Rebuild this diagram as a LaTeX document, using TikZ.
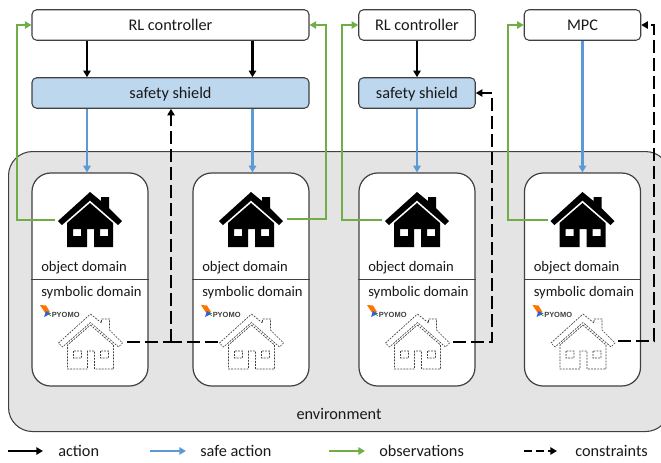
\documentclass[tikz,border=0pt]{standalone}
\usepackage{fontspec}
\setmainfont{Carlito}
\newfontfamily\logofont{Liberation Sans}
\usetikzlibrary{arrows.meta}
\definecolor{cgreen}{HTML}{70AD47}
\definecolor{cblue}{HTML}{5B9BD5}
\definecolor{cshield}{HTML}{BDD7EE}
\definecolor{cenv}{HTML}{E4E4E4}
\definecolor{cedge}{HTML}{404040}
\tikzset{
  wh/.style 2 args={minimum width=#1*.75pt,minimum height=#2*.75pt,inner sep=0pt},
  ctrl/.style={draw=cedge,line width=.8pt,fill=white,rounded corners=3.5pt,font=\fontsize{12.2}{14}\selectfont,text=black!90,text height=8.3pt,text depth=.3pt},
  shieldbox/.style={ctrl,fill=cshield},
  envbox/.style={draw=cedge,line width=.8pt,fill=cenv,rounded corners=18pt},
  dombox/.style={draw=cedge,line width=.9pt,fill=white,rounded corners=14pt},
  lbl/.style={font=\fontsize{12.2}{14}\selectfont,inner sep=0pt,text=black!90},
  domlbl/.style={lbl,anchor=west,font=\fontsize{10.95}{13}\selectfont},
  act/.style={line width=1.7pt,black,-{Triangle[length=5pt,width=5.5pt]}},
  safe/.style={line width=1.7pt,cblue,-{Triangle[length=5pt,width=5.5pt]}},
  obs/.style={line width=1.9pt,cgreen,-{Triangle[length=5pt,width=5.5pt]}},
  cons/.style={line width=1.8pt,black,dash pattern=on 10pt off 3.5pt,-{Triangle[length=5pt,width=5.5pt]}},
  consline/.style={line width=1.8pt,black,dash pattern=on 10pt off 3.5pt},
  house/.pic={
    \path[pic actions,even odd rule]
      (0,0) -- (11,9) -- (11,5) -- (19,5) -- (19,16) -- (32,29) -- (28,33) -- (0,8.5) -- (-28,33) -- (-32,29) -- cycle
      (0,11) -- (23,31) -- (23,55) -- (4,55) -- (4,37) -- (-3,37) -- (-3,55) -- (-23,55) -- (-23,31) -- cycle
      (10,37) rectangle (18,44)
      (-17,37) rectangle (-9,44);
  }
}
\newcommand{\domain}[2]{%
  \node[dombox,wh={116}{213}] (dom#1) at (#2,279.5) {};
  \draw[cedge,line width=.6pt] (dom#1.west |- 0,279) -- (dom#1.east |- 0,279);
  \node[domlbl] (obj#1) at (#2-49,267.5) {object domain};
  \node[domlbl] (sym#1) at (#2-49,292.5) {symbolic domain};
  \pic[fill=black] at (#2,192) {house};
  \pic[draw=black!75,line width=.5pt,dash pattern=on 1.4pt off .9pt] at (#2+.5,314) {house};
  \fill[orange!90!red] (#2-50,305) -- (#2-44,305.5) -- (#2-40,312) -- (#2-44,314) -- cycle;
  \fill[cblue!60!blue] (#2-44,311) -- (#2-39,313.5) -- (#2-46,317) -- cycle;
  \draw[green!60!black,line width=.4pt] (#2-43,313) -- (#2-39,316);
  \node[inner sep=0pt,anchor=west,font=\logofont\bfseries\fontsize{5.6}{6}\selectfont,text=black!75] (logo#1) at (#2-38.5,314.5) {PYOMO};
}
\begin{document}
\begin{tikzpicture}[x=.75pt,y=-.75pt]
\useasboundingbox (0,0) rectangle (661,462);
\node[envbox,wh={661}{280},anchor=north west] (env) at (8,151) {};
\node[lbl] (envlbl) at (339,413.5) {environment};
\domain{A}{90}
\domain{B}{251}
\domain{C}{417}
\domain{D}{582.5}
\node[ctrl,wh={277}{30.5}] (rlA) at (170.5,25) {RL controller};
\node[shieldbox,wh={277}{30.5}] (shA) at (170.5,93) {safety shield};
\node[ctrl,wh={116.5}{30.5}] (rlB) at (417,25) {RL controller};
\node[shieldbox,wh={116.5}{30.5}] (shB) at (417,93) {safety shield};
\node[ctrl,wh={116.5}{30.5}] (mpc) at (582.5,25) {MPC};
% anchors on the house icons and routing points
\coordinate (xa) at (87,0);
\coordinate (xb) at (252.5,0);
\coordinate (hA) at (55,220);
\coordinate (hB) at (287,219);
\coordinate (hC) at (382,220);
\coordinate (hD) at (548,220);
\coordinate (gA) at (17,0);
\coordinate (gB) at (326,0);
\coordinate (gC) at (342,0);
\coordinate (gD) at (508,0);
\coordinate (sA) at (127,342);
\coordinate (sB) at (218,342);
\coordinate (sC) at (453,342);
\coordinate (sD) at (618,341);
\coordinate (kA) at (171,342);
\coordinate (kC) at (492,342);
\coordinate (kD) at (654,341);
% actions
\draw[act] (xa |- rlA.south) -- (xa |- shA.north);
\draw[act] (xb |- rlA.south) -- (xb |- shA.north);
\draw[act] (rlB.south) -- (shB.north);
% safe actions
\draw[safe] (xa |- shA.south) -- (xa |- domA.north);
\draw[safe] (xb |- shA.south) -- (xb |- domB.north);
\draw[safe] (shB.south) -- (domC.north);
\draw[safe] (mpc.south) -- (domD.north);
% observations
\draw[obs] (hA) -| (gA |- rlA.west) -- (rlA.west);
\draw[obs] (hB) -| (gB |- rlA.east) -- (rlA.east);
\draw[obs] (hC) -| (gC |- rlB.west) -- (rlB.west);
\draw[obs] (hD) -| (gD |- mpc.west) -- (mpc.west);
% constraints
\draw[consline] (sA) -- (kA);
\draw[consline] (sB) -- (kA);
\draw[cons] (kA) -- (kA |- shA.south);
\draw[cons] (sC) -| (kC |- shB.east) -- (shB.east);
\draw[cons] (sD) -| (kD |- mpc.east) -- (mpc.east);
% legend
\coordinate (l1a) at (8,451); \coordinate (l1b) at (43,451);
\coordinate (l2a) at (150,451); \coordinate (l2b) at (186,451);
\coordinate (l3a) at (329,451); \coordinate (l3b) at (365,451);
\coordinate (l4a) at (524,451); \coordinate (l4b) at (557,451);
\draw[act] (l1a) -- (l1b);
\draw[safe] (l2a) -- (l2b);
\draw[obs] (l3a) -- (l3b);
\draw[line width=1.8pt,dash pattern=on 6pt off 3pt,-{Triangle[length=5pt,width=5.5pt]}] (l4a) -- (l4b);
\node[lbl,anchor=west] (t1) at (58,451) {action};
\node[lbl,anchor=west] (t2) at (200,451) {safe action};
\node[lbl,anchor=west] (t3) at (379,451) {observations};
\node[lbl,anchor=west] (t4) at (575,451) {constraints};
\end{tikzpicture}
\end{document}
